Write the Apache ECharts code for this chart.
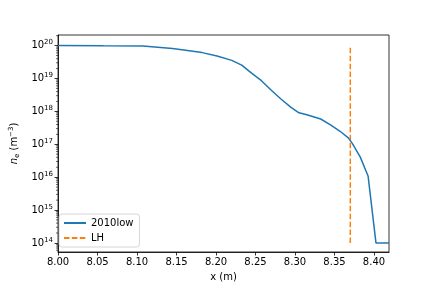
<!DOCTYPE html>
<html>
<head>
<meta charset="utf-8">
<script src="https://cdn.jsdelivr.net/npm/echarts@6/dist/echarts.min.js"></script>
<style>html,body{margin:0;padding:0;background:#fff}#c{width:432px;height:288px}</style>
</head>
<body>
<div id="c"></div>
<script>
const xValues = [8.000, 8.0575, 8.1075, 8.145, 8.1825, 8.20125, 8.220, 8.2325, 8.245, 8.2575, 8.270, 8.2825, 8.295, 8.305, 8.315, 8.3325, 8.345, 8.3575, 8.3675, 8.3725, 8.3825, 8.3925, 8.4025, 8.419];
const neValues = [1.00e20, 9.86e19, 9.8e19, 8.1e19, 6.12e19, 4.85e19, 3.56e19, 2.54e19, 1.45e19, 8.58e18, 4.4e18, 2.34e18, 1.33e18, 9.06e17, 7.87e17, 5.86e17, 3.9e17, 2.44e17, 1.57e17, 1.06e17, 4.13e16, 1.09e16, 1.0e14, 1.0e14];
const lhX = [8.37, 8.37];
const lhY = [1e14, 1e20];
const xTicks = [8.00, 8.05, 8.10, 8.15, 8.20, 8.25, 8.30, 8.35, 8.40];
const yTicks = [1e14, 1e15, 1e16, 1e17, 1e18, 1e19, 1e20];
const yMinorTicks = [];
for (let e = 13; e <= 20; e++) for (let m = 2; m <= 9; m++) { const v = m * Math.pow(10, e); if (v > 5.3e13 && v < 2.1e20) yMinorTicks.push(v); }

const font = 'DejaVu Sans';
const chart = echarts.init(document.getElementById('c'), null, {renderer: 'canvas'});
chart.setOption({
  animation: false,
  textStyle: {fontFamily: font},
  grid: {left: 54, right: 43, top: 35, bottom: 36, show: true, borderColor: '#000', borderWidth: 0.8, backgroundColor: 'transparent'},
  legend: {
    left: 59, top: 214, orient: 'vertical',
    backgroundColor: 'rgba(255,255,255,0.8)',
    borderColor: '#cccccc', borderWidth: 0.8, borderRadius: 3,
    padding: [4, 6, 4, 4], itemGap: 5, itemWidth: 22, itemHeight: 10,
    itemStyle: {opacity: 0},
    textStyle: {fontSize: 10, fontFamily: font, color: '#000'},
    data: ['2010low', 'LH']
  },
  xAxis: {
    type: 'value', min: 8.0, max: 8.419,
    name: 'x (m)', nameLocation: 'middle', nameGap: 20,
    nameTextStyle: {fontSize: 10, color: '#000', fontFamily: font},
    axisLine: {show: true, lineStyle: {color: '#000', width: 0.8}},
    axisTick: {show: true, length: 3.5, lineStyle: {color: '#000', width: 0.8}, customValues: xTicks},
    axisLabel: {fontSize: 10, color: '#000', margin: 5, customValues: xTicks, formatter: v => v.toFixed(2)},
    splitLine: {show: false}
  },
  yAxis: {
    type: 'log', logBase: 10, min: 5.3e13, max: 2.1e20,
    name: '{i|n}{sub|e} (m{sup|−3})', nameLocation: 'middle', nameGap: 36, nameRotate: 90,
    nameTextStyle: {fontSize: 10, color: '#000', fontFamily: font,
      rich: {
        i: {fontSize: 10, fontStyle: 'italic', fontFamily: font, color: '#000'},
        sub: {fontSize: 7, fontFamily: font, color: '#000', padding: [5, 0, 0, 0]},
        sup: {fontSize: 7, fontFamily: font, color: '#000', padding: [0, 0, 6, 0]}
      }},
    axisLine: {show: true, lineStyle: {color: '#000', width: 0.8}},
    axisTick: {show: true, length: 3.5, lineStyle: {color: '#000', width: 0.8}, customValues: yTicks},
    axisLabel: {color: '#000', margin: 5, customValues: yTicks,
      formatter: v => '{b|10}{s|' + Math.round(Math.log10(v)) + '}',
      rich: {
        b: {fontSize: 10, fontFamily: font, color: '#000'},
        s: {fontSize: 7, fontFamily: font, color: '#000', padding: [0, 0, 6, 0]}
      }},
    splitLine: {show: false}
  },
  series: [
    {
      name: '2010low', type: 'line', symbol: 'none', showSymbol: false, smooth: false,
      data: xValues.map((x, i) => [x, neValues[i]]),
      lineStyle: {color: '#1f77b4', width: 1.5}, itemStyle: {color: '#1f77b4'}, z: 3
    },
    {
      name: 'LH', type: 'line', symbol: 'none', showSymbol: false,
      data: lhX.map((x, i) => [x, lhY[i]]),
      lineStyle: {color: '#ff7f0e', width: 1.5, type: [5.5, 2.4]}, itemStyle: {color: '#ff7f0e'}, z: 2
    },
    {
      name: 'minor', type: 'custom', silent: true, clip: false,
      data: yMinorTicks.map(v => [8.0, v]),
      renderItem: (params, api) => {
        const p = api.coord([8.0, api.value(1)]);
        return {type: 'line', shape: {x1: p[0] - 2, y1: p[1], x2: p[0], y2: p[1]}, style: {stroke: '#000', lineWidth: 0.6}};
      }
    }
  ]
});
</script>
</body>
</html>
